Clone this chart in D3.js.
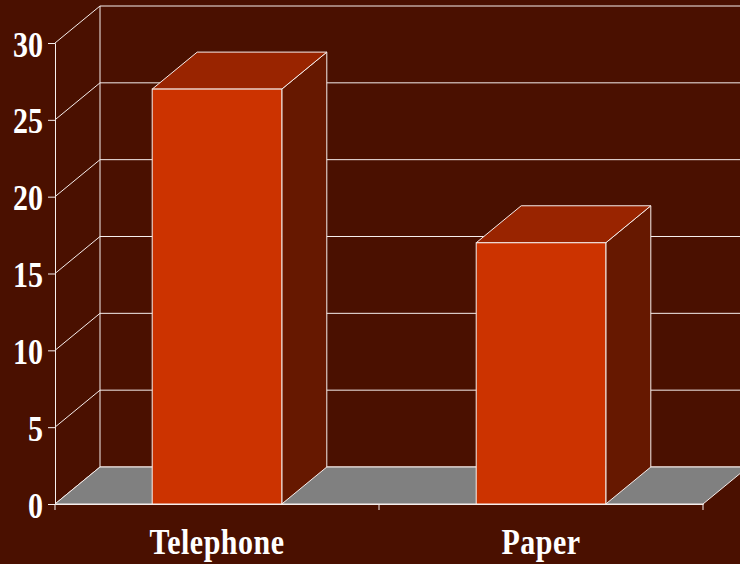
<!DOCTYPE html>
<html lang="en">
<head>
<meta charset="UTF-8">
<title>3D bar chart</title>
<script src="https://cdn.jsdelivr.net/npm/d3@7"></script>
<style>
    body { margin: 0; background: #4a1000; }
    svg { display: block; }
    .lbl { font-family: "Liberation Serif", "Times New Roman", serif; font-weight: bold; fill: #fff; }
</style>
</head>
<body>
<svg width="740" height="564"></svg>
<script>
    // data
    const categories = ["Telephone", "Paper"];
    const values = [27, 17];
    const yTicks = [0, 5, 10, 15, 20, 25, 30];

    const width = 740, height = 564;
    const margin = { top: 43, left: 55, bottom: 60 };
    const depthX = 45, depthY = 37;   // 3D offset of the back wall
    const plotRight = 703;
    const line = "#f6eeec";

    const svg = d3.select("svg");
    svg.append("rect").attr("width", width).attr("height", height).attr("fill", "#4a1000");

    const y = d3.scaleLinear().domain([0, 30]).range([height - margin.bottom, margin.top]);
    const x = d3.scaleBand().domain(categories)
        .range([margin.left, plotRight])
        .paddingInner(0.6).paddingOuter(0.3);

    const y0 = y(0);

    // back wall gridlines
    const grid = svg.append("g").attr("stroke", line).attr("stroke-width", 1).attr("fill", "none");
    grid.selectAll(".h").data(yTicks).join("line")
        .attr("x1", margin.left + depthX).attr("x2", plotRight + depthX)
        .attr("y1", d => y(d) - depthY).attr("y2", d => y(d) - depthY);
    grid.selectAll(".d").data(yTicks).join("line")
        .attr("x1", margin.left).attr("x2", margin.left + depthX)
        .attr("y1", d => y(d)).attr("y2", d => y(d) - depthY);
    grid.append("line")
        .attr("x1", margin.left + depthX).attr("x2", margin.left + depthX)
        .attr("y1", y(30) - depthY).attr("y2", y0 - depthY);

    // floor
    svg.append("polygon")
        .attr("points", [[margin.left, y0], [plotRight, y0], [plotRight + depthX, y0 - depthY], [margin.left + depthX, y0 - depthY]].join(" "))
        .attr("fill", "#808080").attr("stroke", line);

    // y axis
    const yAxis = svg.append("g").attr("transform", `translate(${margin.left},0)`)
        .call(d3.axisLeft(y).tickValues(yTicks).tickSize(7).tickFormat(d3.format("d")));
    yAxis.select(".domain").attr("stroke", line);
    yAxis.selectAll(".tick line").attr("stroke", line);
    yAxis.selectAll(".tick text").attr("class", "lbl")
        .attr("x", 0).attr("dy", "0.37em")
        .attr("transform", "translate(-12,0) scale(1,1.18)")
        .style("font-size", "30px");

    // bars
    const bars = svg.append("g").selectAll("g").data(categories.map((c, i) => ({ c, v: values[i] }))).join("g")
        .attr("stroke", line).attr("stroke-width", 1);
    bars.append("polygon")
        .attr("fill", "#661800")
        .attr("points", d => {
            const x1 = x(d.c) + x.bandwidth(), yv = y(d.v);
            return [[x1, yv], [x1 + depthX, yv - depthY], [x1 + depthX, y0 - depthY], [x1, y0]].join(" ");
        });
    bars.append("polygon")
        .attr("fill", "#992400")
        .attr("points", d => {
            const x0 = x(d.c), x1 = x0 + x.bandwidth(), yv = y(d.v);
            return [[x0, yv], [x0 + depthX, yv - depthY], [x1 + depthX, yv - depthY], [x1, yv]].join(" ");
        });
    bars.append("rect")
        .attr("fill", "#cc3300")
        .attr("x", d => x(d.c)).attr("y", d => y(d.v))
        .attr("width", x.bandwidth()).attr("height", d => y0 - y(d.v));

    // x axis
    const xAxis = svg.append("g").attr("transform", `translate(0,${y0})`)
        .call(d3.axisBottom(x).tickSize(0).tickSizeOuter(0));
    xAxis.select(".domain").attr("stroke", line);
    xAxis.selectAll(".tick text").attr("class", "lbl")
        .style("font-size", "30px")
        .style("letter-spacing", "0.5px")
        .attr("y", 0).attr("dy", 0)
        .attr("transform", "translate(0,50) scale(1,1.18)");
    xAxis.selectAll(".sep").data([margin.left, (margin.left + plotRight) / 2, plotRight]).join("line")
        .attr("stroke", line)
        .attr("x1", d => d).attr("x2", d => d).attr("y1", 0).attr("y2", 6);
</script>
</body>
</html>
